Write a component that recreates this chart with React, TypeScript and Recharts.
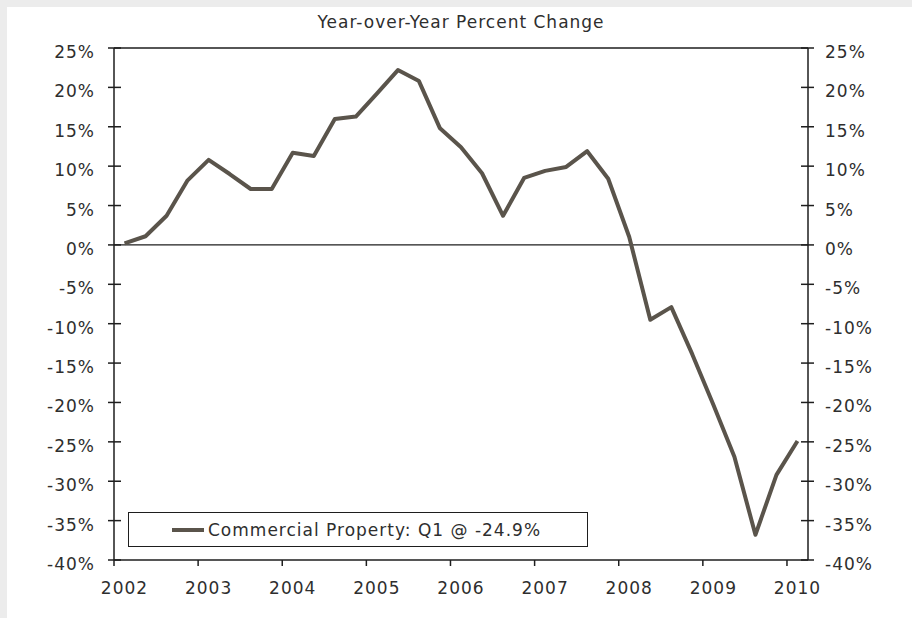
import React from "react";
import {
  LineChart,
  Line,
  XAxis,
  YAxis,
  ReferenceLine,
  Legend,
} from "recharts";

// quarterly year-over-year % change
const quarters = [
  "2002 Q1", "2002 Q2", "2002 Q3", "2002 Q4",
  "2003 Q1", "2003 Q2", "2003 Q3", "2003 Q4",
  "2004 Q1", "2004 Q2", "2004 Q3", "2004 Q4",
  "2005 Q1", "2005 Q2", "2005 Q3", "2005 Q4",
  "2006 Q1", "2006 Q2", "2006 Q3", "2006 Q4",
  "2007 Q1", "2007 Q2", "2007 Q3", "2007 Q4",
  "2008 Q1", "2008 Q2", "2008 Q3", "2008 Q4",
  "2009 Q1", "2009 Q2", "2009 Q3", "2009 Q4",
  "2010 Q1",
];

const commercialProperty = [
  0.2, 1.1, 3.7, 8.2,
  10.8, 9.0, 7.1, 7.1,
  11.7, 11.3, 16.0, 16.3,
  19.2, 22.2, 20.8, 14.8,
  12.4, 9.1, 3.7, 8.5,
  9.4, 9.9, 11.9, 8.4,
  1.0, -9.5, -7.9, -13.9,
  -20.3, -26.9, -36.8, -29.2,
  -24.9,
];

const yearTicks = [2002, 2003, 2004, 2005, 2006, 2007, 2008, 2009, 2010];
const pctTicks = [-40, -35, -30, -25, -20, -15, -10, -5, 0, 5, 10, 15, 20, 25];

const title = "Year-over-Year Percent Change";
const legendLabel = "Commercial Property: Q1 @ -24.9%";

// place each quarter at its mid-point on a continuous year scale
const data = quarters.map((q, i) => {
  const [yr, qq] = q.split(" Q");
  return { t: Number(yr) + (Number(qq) - 0.5) / 4, v: commercialProperty[i] };
});

const FONT = "'DejaVu Sans', Verdana, sans-serif";
const TEXT = "#2e2e2e";
const AXIS = "#1e1e1e";
const LINE = "#5a544b";
const LS = 1.0;

// recharts draws the outer half of each tick; the inner half is added here
const LeftTick = (props: any) => {
  const { x, y, payload } = props;
  const ax = x + 19;
  return (
    <g>
      <path d={`M${ax},${y}h7`} stroke={AXIS} strokeWidth={1.5} fill="none" />
      <text x={x} y={y} dy={10} textAnchor="end" fill={TEXT} fontSize={17} letterSpacing={LS} fontFamily={FONT}>
        {payload.value}%
      </text>
    </g>
  );
};

const RightTick = (props: any) => {
  const { x, y, payload } = props;
  const ax = x - 17;
  return (
    <g>
      <path d={`M${ax},${y}h-7`} stroke={AXIS} strokeWidth={1.5} fill="none" />
      <text x={x} y={y} dy={10} textAnchor="start" fill={TEXT} fontSize={17} letterSpacing={LS} fontFamily={FONT}>
        {payload.value}%
      </text>
    </g>
  );
};

const YearTick = (props: any) => {
  const { x, y, payload } = props;
  return (
    <text x={x + 10.5} y={y} dy="0.71em" textAnchor="middle" fill={TEXT} fontSize={17} letterSpacing={LS} fontFamily={FONT}>
      {payload.value}
    </text>
  );
};

const LegendBox = () => (
  <div
    style={{
      width: "100%",
      height: "100%",
      boxSizing: "border-box",
      border: `1.5px solid ${AXIS}`,
      background: "#fff",
      display: "flex",
      alignItems: "center",
      fontFamily: FONT,
      fontSize: 17,
      letterSpacing: LS,
      color: TEXT,
    }}
  >
    <svg width={76} height={10} style={{ flex: "none" }}>
      <line x1={43} x2={75} y1={5} y2={5} stroke={LINE} strokeWidth={4} />
    </svg>
    <span style={{ marginLeft: 3, whiteSpace: "nowrap" }}>{legendLabel}</span>
  </div>
);

const axisStroke = { stroke: AXIS, strokeWidth: 1.5 };

export default function App() {
  return (
    <div style={{ position: "absolute", left: 0, top: 0, width: 912, height: 618, background: "#ececec", overflow: "hidden" }}>
      <div style={{ position: "absolute", left: 7, top: 7, right: 0, bottom: 0, background: "#fff" }} />
      <div
        style={{
          position: "absolute",
          left: 114,
          width: 694,
          top: 11.5,
          lineHeight: "20px",
          textAlign: "center",
          fontFamily: FONT,
          fontSize: 17,
          letterSpacing: LS,
          color: TEXT,
        }}
      >
        {title}
      </div>
      <div style={{ position: "absolute", left: 0, top: 0 }}>
        <LineChart width={912} height={618} data={data} margin={{ top: 48, right: 0, bottom: 0, left: 0 }}>
          <XAxis
            dataKey="t"
            type="number"
            domain={[2002, 2010.25]}
            ticks={yearTicks}
            allowDataOverflow
            height={58}
            tickSize={6}
            tickMargin={16}
            axisLine={axisStroke}
            tickLine={axisStroke}
            tick={<YearTick />}
            interval={0}
          />
          <YAxis
            yAxisId="left"
            orientation="left"
            type="number"
            domain={[-40, 25]}
            ticks={pctTicks}
            width={114}
            tickSize={6}
            tickMargin={13}
            axisLine={axisStroke}
            tickLine={axisStroke}
            tick={<LeftTick />}
            interval={0}
          />
          <YAxis
            yAxisId="right"
            orientation="right"
            type="number"
            domain={[-40, 25]}
            ticks={pctTicks}
            width={104}
            tickSize={6}
            tickMargin={11}
            axisLine={axisStroke}
            tickLine={axisStroke}
            tick={<RightTick />}
            interval={0}
          />
          <ReferenceLine yAxisId="left" y={25} stroke={AXIS} strokeWidth={1.5} />
          <ReferenceLine yAxisId="left" y={0} stroke={AXIS} strokeWidth={1.3} />
          <Legend
            layout="vertical"
            verticalAlign="middle"
            align="center"
            content={<LegendBox />}
            wrapperStyle={{ left: 128, top: 512, width: 460, height: 35 }}
          />
          {/* invisible twin so the right axis gets a domain */}
          <Line
            yAxisId="right"
            dataKey="v"
            stroke="none"
            legendType="none"
            dot={false}
            activeDot={false}
            isAnimationActive={false}
          />
          <Line
            yAxisId="left"
            dataKey="v"
            name={legendLabel}
            type="linear"
            stroke={LINE}
            strokeWidth={4}
            strokeLinejoin="round"
            dot={false}
            activeDot={false}
            isAnimationActive={false}
          />
        </LineChart>
      </div>
    </div>
  );
}
